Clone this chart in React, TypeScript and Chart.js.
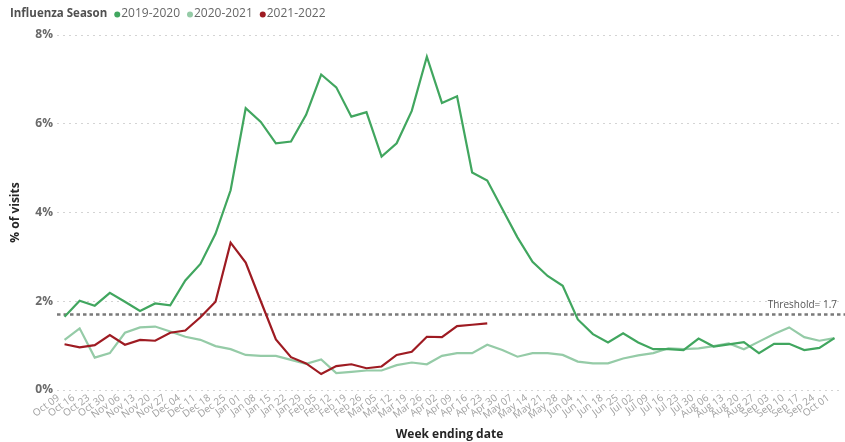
import React, { useEffect, useRef } from 'react';
import { Chart, registerables } from 'chart.js';

Chart.register(...registerables);

const WEEKS = [
  'Oct 09', 'Oct 16', 'Oct 23', 'Oct 30', 'Nov 06', 'Nov 13', 'Nov 20', 'Nov 27',
  'Dec 04', 'Dec 11', 'Dec 18', 'Dec 25', 'Jan 01', 'Jan 08', 'Jan 15', 'Jan 22', 'Jan 29',
  'Feb 05', 'Feb 12', 'Feb 19', 'Feb 26', 'Mar 05', 'Mar 12', 'Mar 19', 'Mar 26',
  'Apr 02', 'Apr 09', 'Apr 16', 'Apr 23', 'Apr 30', 'May 07', 'May 14', 'May 21', 'May 28',
  'Jun 04', 'Jun 11', 'Jun 18', 'Jun 25', 'Jul 02', 'Jul 09', 'Jul 16', 'Jul 23', 'Jul 30',
  'Aug 06', 'Aug 13', 'Aug 20', 'Aug 27', 'Sep 03', 'Sep 10', 'Sep 17', 'Sep 24', 'Oct 01',
];

const SEASON_2019 = [
  1.65, 2.01, 1.9, 2.19, 1.99, 1.78, 1.95, 1.91, 2.47, 2.84, 3.52, 4.5, 6.35, 6.04, 5.56, 5.6,
  6.2, 7.11, 6.82, 6.16, 6.26, 5.26, 5.56, 6.29, 7.51, 6.47, 6.62, 4.9, 4.72, 4.08, 3.44, 2.89,
  2.57, 2.35, 1.59, 1.26, 1.07, 1.28, 1.07, 0.92, 0.92, 0.9, 1.16, 0.98, 1.03, 1.08, 0.83, 1.04,
  1.04, 0.9, 0.95, 1.17,
];

const SEASON_2020 = [
  1.13, 1.39, 0.73, 0.83, 1.29, 1.41, 1.43, 1.32, 1.2, 1.13, 0.99, 0.92, 0.79, 0.77, 0.77, 0.68,
  0.59, 0.69, 0.38, 0.41, 0.44, 0.44, 0.56, 0.62, 0.58, 0.77, 0.83, 0.83, 1.02, 0.9, 0.75, 0.83,
  0.83, 0.79, 0.64, 0.6, 0.6, 0.71, 0.78, 0.83, 0.94, 0.92, 0.94, 0.99, 1.05, 0.92, 1.09, 1.26,
  1.41, 1.19, 1.11, 1.17,
];

const SEASON_2021 = [
  1.03, 0.96, 1.01, 1.24, 1.02, 1.13, 1.11, 1.29, 1.34, 1.64, 1.99, 3.32, 2.87, 2.0, 1.14, 0.74,
  0.6, 0.36, 0.54, 0.58, 0.49, 0.53, 0.79, 0.86, 1.2, 1.19, 1.44, 1.47, 1.5,
];

const SEASONS = ['2019-2020', '2020-2021', '2021-2022'];
const COLORS = ['#41a65f', '#95cba7', '#9e1b22'];
const LEGEND_TITLE = 'Influenza Season';
const THRESHOLD = 1.7;
const THRESHOLD_LABEL = 'Threshold= 1.7';
const Y_MAX = 8;
const Y_STEP = 2;
const X_TITLE = 'Week ending date';
const Y_TITLE = '% of visits';

const FONT = '"Open Sans", "Noto Sans", sans-serif';

const thresholdPlugin = {
  id: 'thresholdLine',
  beforeDatasetsDraw(chart: any) {
    const { ctx, chartArea, scales } = chart;
    const y = scales.y.getPixelForValue(THRESHOLD);
    ctx.save();
    ctx.strokeStyle = '#7a7a7a';
    ctx.lineWidth = 2.5;
    ctx.setLineDash([3.5, 3]);
    ctx.beginPath();
    ctx.moveTo(chartArea.left, y);
    ctx.lineTo(chartArea.right + 3, y);
    ctx.stroke();
    ctx.setLineDash([]);
    ctx.font = `10px ${FONT}`;
    ctx.fillStyle = '#555';
    ctx.textAlign = 'right';
    ctx.textBaseline = 'middle';
    ctx.fillText(THRESHOLD_LABEL, chartArea.right - 5, y - 9);
    ctx.restore();
  },
};

const legendPlugin = {
  id: 'inlineLegend',
  afterDraw(chart: any) {
    const { ctx } = chart;
    ctx.save();
    ctx.textBaseline = 'middle';
    ctx.textAlign = 'left';
    const y = 14;
    let x = 10;
    ctx.font = `bold 11.5px ${FONT}`;
    ctx.fillStyle = '#505050';
    ctx.fillText(LEGEND_TITLE, x, y);
    x += ctx.measureText(LEGEND_TITLE).width + 7;
    ctx.font = `12px ${FONT}`;
    SEASONS.forEach((name, i) => {
      ctx.fillStyle = COLORS[i];
      ctx.beginPath();
      ctx.arc(x + 3, y + 0.5, 3, 0, Math.PI * 2);
      ctx.fill();
      ctx.fillStyle = '#666';
      ctx.fillText(name, x + 7, y);
      x += 7 + ctx.measureText(name).width + 7;
    });
    ctx.restore();
  },
};

export default function App() {
  const ref = useRef<HTMLCanvasElement | null>(null);

  useEffect(() => {
    document.body.style.margin = '0';
    if (!ref.current) return;
    const series = [SEASON_2019, SEASON_2020, SEASON_2021];
    const chart = new Chart(ref.current, {
      type: 'line',
      data: {
        labels: WEEKS,
        datasets: SEASONS.map((name, i) => ({
          label: name,
          data: series[i],
          borderColor: COLORS[i],
          backgroundColor: COLORS[i],
          borderWidth: 2.2,
          pointRadius: 0,
          pointHoverRadius: 0,
          tension: 0,
          fill: false,
          order: i === 0 ? 1 : i === 1 ? 2 : 0,
        })),
      },
      options: {
        responsive: false,
        maintainAspectRatio: false,
        animation: false,
        layout: { padding: { top: 35, right: 3, left: 0, bottom: 0 } },
        plugins: {
          legend: { display: false },
          tooltip: { enabled: false },
        },
        scales: {
          x: {
            type: 'category',
            offset: true,
            grid: { display: false, drawTicks: false },
            border: { display: false },
            afterFit: (s: any) => {
              s.height = 52;
            },
            ticks: {
              autoSkip: false,
              maxRotation: 36,
              minRotation: 36,
              padding: 2,
              labelOffset: -6,
              color: '#a0a0a0',
              font: { family: FONT, size: 10 },
            },
            title: {
              display: true,
              text: X_TITLE,
              color: '#252525',
              font: { family: FONT, size: 12, weight: 'bold' },
              padding: { top: 1, bottom: 0 },
            },
          },
          y: {
            min: 0,
            max: Y_MAX,
            afterFit: (s: any) => {
              s.width = 57;
            },
            grid: {
              color: '#d4d4d4',
              lineWidth: 1,
              drawTicks: false,
            },
            border: { display: false, dash: [2, 4] },
            ticks: {
              stepSize: Y_STEP,
              padding: 4,
              color: '#6a6a6a',
              font: { family: FONT, size: 12, weight: 'bold' },
              callback: (v: any) => `${v}%`,
            },
            title: {
              display: true,
              text: Y_TITLE,
              color: '#252525',
              font: { family: FONT, size: 12, weight: 'bold' },
              padding: { top: 8, bottom: 0 },
            },
          },
        },
      },
      plugins: [thresholdPlugin, legendPlugin],
    } as any);
    return () => chart.destroy();
  }, []);

  return (
    <div style={{ width: 845, height: 442, position: 'relative' }}>
      <canvas ref={ref} width={845} height={442} />
    </div>
  );
}
